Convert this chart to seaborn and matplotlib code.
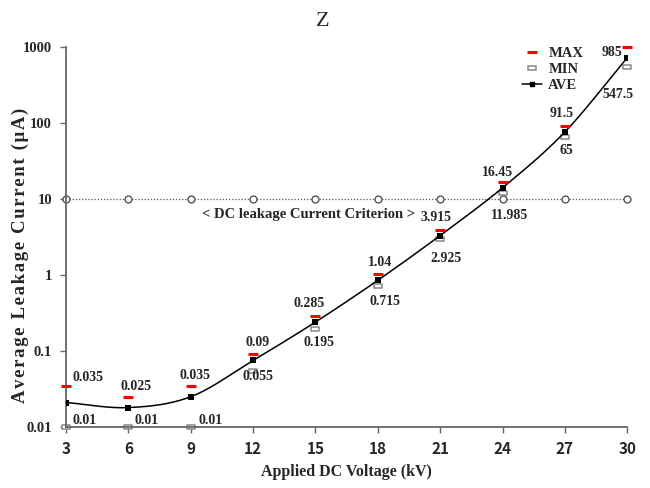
import numpy as np
import matplotlib
matplotlib.use("Agg")
import matplotlib.pyplot as plt
from matplotlib.lines import Line2D
from matplotlib.path import Path
import seaborn as sns

voltage = [3, 6, 9, 12, 15, 18, 21, 24, 27, 30]
max_vals = [0.035, 0.025, 0.035, 0.09, 0.285, 1.04, 3.915, 16.45, 91.5, 985]
min_vals = [0.01, 0.01, 0.01, 0.055, 0.195, 0.715, 2.925, 11.985, 65, 547.5]
ave_vals = [0.021, 0.018, 0.025, 0.075, 0.24, 0.85, 3.3, 14.0, 76, 720]
criterion = [10] * len(voltage)
max_labels = ["0.035", "0.025", "0.035", "0.09", "0.285", "1.04", "3.915", "16.45", "91.5", "985"]
min_labels = ["0.01", "0.01", "0.01", "0.055", "0.195", "0.715", "2.925", "11.985", "65", "547.5"]

sns.set_theme(style="white")
plt.rcParams["font.family"] = ["Liberation Serif", "DejaVu Serif"]

fig = plt.figure(figsize=(6.5, 4.88), dpi=100)
ax = fig.add_axes([0.1015, 0.125, 0.8635, 0.779])
ax.set_yscale("log")

# criterion line
sns.lineplot(x=voltage, y=criterion, ax=ax, color="#555555", linestyle=(0, (1, 1.5)),
             linewidth=0.9, marker="o", markersize=5, markerfacecolor="white",
             markeredgecolor="#444444", markeredgewidth=0.9, legend=False, clip_on=False, zorder=2)
ax.text(14.65, 6.2, "< DC leakage Current Criterion >", ha="center", va="center",
        fontsize=10.5, fontweight="bold")

# smooth AVE curve (Catmull-Rom in log space, for display only)
xs = np.array(voltage, dtype=float)
ys = np.log10(np.array(ave_vals, dtype=float))
px = np.concatenate([[2 * xs[0] - xs[1]], xs, [2 * xs[-1] - xs[-2]]])
py = np.concatenate([[2 * ys[0] - ys[1]], ys, [2 * ys[-1] - ys[-2]]])
cx, cy = [], []
for i in range(1, len(px) - 2):
    t = np.linspace(0, 1, 30)
    for arr, out in ((px, cx), (py, cy)):
        p0, p1, p2, p3 = arr[i - 1], arr[i], arr[i + 1], arr[i + 2]
        m1 = (p2 - p0) / 2
        m2 = (p3 - p1) / 2
        h00 = 2 * t**3 - 3 * t**2 + 1
        h10 = t**3 - 2 * t**2 + t
        h01 = -2 * t**3 + 3 * t**2
        h11 = t**3 - t**2
        out.extend(h00 * p1 + h10 * m1 + h01 * p2 + h11 * m2)
ax.plot(cx, 10 ** np.array(cy), color="black", linewidth=1.1, zorder=3)
sns.scatterplot(x=voltage, y=ave_vals, ax=ax, marker="s", s=14, color="black",
                edgecolor="black", linewidth=0, zorder=4, legend=False)

# MAX markers
sns.scatterplot(x=voltage, y=max_vals, ax=ax, marker="_", s=45, color="red",
                linewidth=2.2, zorder=5, legend=False, clip_on=False)

# MIN markers (flat hollow rectangle)
rect = Path([(-1, -0.4), (1, -0.4), (1, 0.4), (-1, 0.4), (-1, -0.4)],
            [Path.MOVETO, Path.LINETO, Path.LINETO, Path.LINETO, Path.CLOSEPOLY])
sns.scatterplot(x=voltage, y=min_vals, ax=ax, marker=rect, s=34, color="white",
                edgecolor="#888888", linewidth=1.1, zorder=2.2, legend=False, clip_on=False)

# labels (offsets in pixels relative to the marker)
lab_kw = dict(fontsize=10, fontweight="bold", ha="center", va="center",
              textcoords="offset pixels")
max_off = [(22, 8), (8, 10), (4, 10), (4, 12), (-6, 13), (2, 11),
           (-4, 12), (-5, 10), (-3, 12), (-15, -5)]
min_off = [(19, 6), (18, 6), (20, 6), (5, -6), (4, -14), (7, -15),
           (6, -19), (7, -23), (1, -13), (-9, -28)]
for x, v, lab, off in zip(voltage, max_vals, max_labels, max_off):
    ax.annotate(lab, xy=(x, v), xytext=off, **lab_kw)
for x, v, lab, off in zip(voltage, min_vals, min_labels, min_off):
    ax.annotate(lab, xy=(x, v), xytext=off, **lab_kw)

ax.set_xlim(3, 30)
ax.set_ylim(0.01, 1000)
ax.set_xticks(voltage)
ax.set_xticklabels([str(v) for v in voltage], fontsize=11, fontweight="bold",
                   family=["Noto Sans CJK KR", "DejaVu Sans"])
ax.set_yticks([0.01, 0.1, 1, 10, 100, 1000])
ax.set_yticklabels(["0.01", "0.1", "1", "10", "100", "1000"], fontsize=10.5, fontweight="bold")
ax.minorticks_off()
ax.tick_params(axis="both", direction="out", length=4, width=1, color="#666666",
               bottom=True, left=True, pad=6)
for s in ["top", "right"]:
    ax.spines[s].set_visible(False)
for s in ["left", "bottom"]:
    ax.spines[s].set_color("#666666")
    ax.spines[s].set_linewidth(1.3)

ax.set_xlabel("Applied DC Voltage (kV)", fontsize=11.5, fontweight="bold", labelpad=5)
ylab = "\u200a".join("Average Leakage Current (μA)")
fig.text(20 / 650, 1 - 255 / 488, ylab, rotation=90, ha="center", va="center",
         fontsize=13.5, fontweight="bold")
fig.text(0.497, 0.955, "Z", ha="center", va="center", fontsize=16)

handles = [
    Line2D([], [], linestyle="none", marker="_", color="red", markersize=7, markeredgewidth=2.2),
    Line2D([], [], linestyle="none", marker=rect, markersize=6, markerfacecolor="white",
           markeredgecolor="#888888", markeredgewidth=1.1),
    Line2D([], [], color="black", linewidth=1.1, marker="s", markersize=3.5),
]
ax.legend(handles, ["MAX", "MIN", "AVE"], loc="upper right", bbox_to_anchor=(0.945, 1.035),
          frameon=False, prop={"weight": "bold", "size": 10.5}, handlelength=1.4,
          handletextpad=0.4, labelspacing=0.2)

fig.savefig("out.png", dpi=100)
